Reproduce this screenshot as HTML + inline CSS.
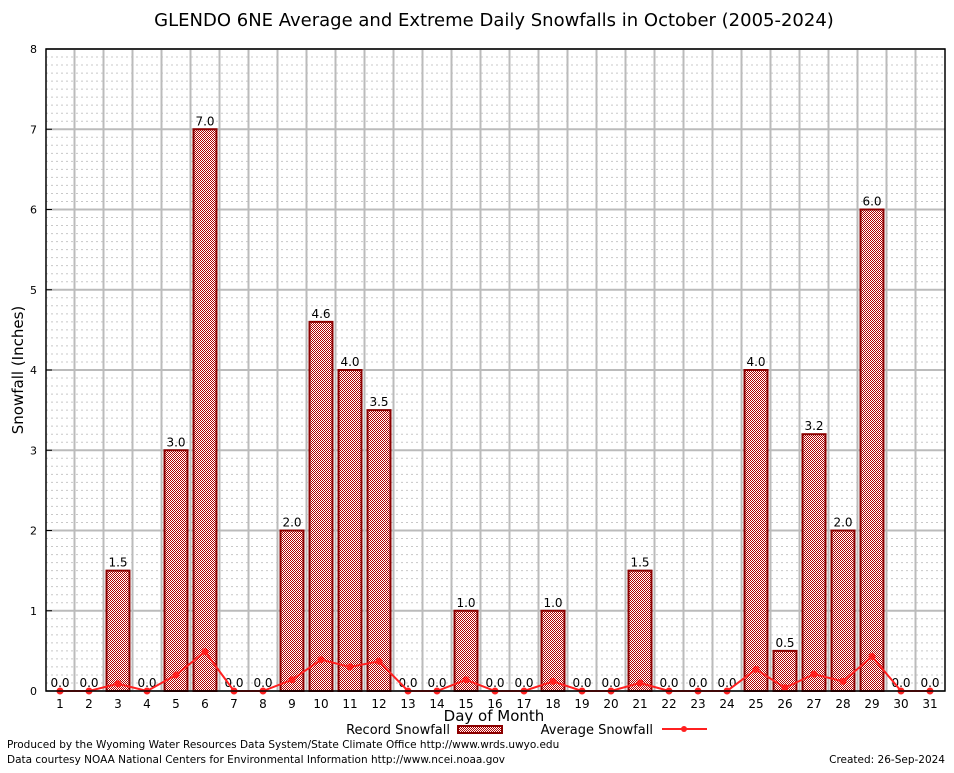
<!DOCTYPE html>
<html><head><meta charset="utf-8"><style>
body{margin:0;background:#fff;}
svg text{font-family:"DejaVu Sans","Liberation Sans",sans-serif;}
</style></head><body>
<svg id="chart" width="954" height="768" viewBox="0 0 954 768" xmlns="http://www.w3.org/2000/svg">
<defs>
<pattern id="dither" width="2" height="2" patternUnits="userSpaceOnUse">
<rect width="2" height="2" fill="#fff"/>
<rect width="1" height="1" fill="#b00000"/>
<rect x="1" y="1" width="1" height="1" fill="#b00000"/>
</pattern>
</defs>
<rect width="954" height="768" fill="#fff"/>
<text x="494" y="26" font-size="18" text-anchor="middle">GLENDO 6NE Average and Extreme Daily Snowfalls in October (2005-2024)</text>
<g id="grid"></g>
<g id="bars"></g>
<g id="avg"></g>
<g id="axes"></g>
<text transform="translate(23,370) rotate(-90)" font-size="15" text-anchor="middle">Snowfall (Inches)</text>
<text x="494" y="721" font-size="15" text-anchor="middle">Day of Month</text>
<g>
<text x="450" y="734" font-size="13" text-anchor="end">Record Snowfall</text>
<rect x="458" y="726" width="44" height="7" fill="url(#dither)" stroke="#8b0000" stroke-width="2"/>
<text x="653" y="734" font-size="13" text-anchor="end">Average Snowfall</text>
<line x1="662" y1="729" x2="707" y2="729" stroke="#ff2020" stroke-width="2"/>
<circle cx="684" cy="729" r="3" fill="#ff2020"/>
</g>
<text x="7" y="748" font-size="10.5">Produced by the Wyoming Water Resources Data System/State Climate Office http://www.wrds.uwyo.edu</text>
<text x="7" y="763" font-size="10.5">Data courtesy NOAA National Centers for Environmental Information http://www.ncei.noaa.gov</text>
<text x="945" y="763" font-size="10.5" text-anchor="end">Created:  26-Sep-2024</text>
</svg>
<script>
const days = [1,2,3,4,5,6,7,8,9,10,11,12,13,14,15,16,17,18,19,20,21,22,23,24,25,26,27,28,29,30,31];
const recordSnow = [0,0,1.5,0,3.0,7.0,0,0,2.0,4.6,4.0,3.5,0,0,1.0,0,0,1.0,0,0,1.5,0,0,0,4.0,0.5,3.2,2.0,6.0,0,0];
const avgSnow = [0,0,0.09,0,0.2,0.49,0,0,0.14,0.39,0.3,0.37,0,0,0.14,0,0,0.12,0,0,0.1,0,0,0,0.27,0.04,0.21,0.12,0.43,0,0];
const yTicks = [0,1,2,3,4,5,6,7,8];

const NS="http://www.w3.org/2000/svg";
const L=46,R=945,T=49,B=691,yMax=8;
const x=d=>60+(d-1)*29;
const y=v=>B-(v/yMax)*(B-T);
function mk(tag,attrs,parent){const e=document.createElementNS(NS,tag);for(const k in attrs)e.setAttribute(k,attrs[k]);parent.appendChild(e);return e;}
const grid=document.getElementById('grid'),bars=document.getElementById('bars'),avg=document.getElementById('avg'),axes=document.getElementById('axes');

for(let i=1;i<yMax*10;i++){if(i%10===0)continue;const l=mk('line',{x1:L,x2:R,y1:y(i/10),y2:y(i/10),stroke:'#c8c8c8','stroke-width':1,'stroke-dasharray':'2,3'},grid);

}
yTicks.forEach(t=>{const l=mk('line',{x1:L,x2:R,y1:y(t),y2:y(t),stroke:'#bbb','stroke-width':2},grid);


const tx=mk('text',{x:37,y:y(t)+4,'font-size':11,'text-anchor':'end'},axes);tx.textContent=t;


const tk=mk('line',{x1:L,x2:L+6,y1:y(t),y2:y(t),stroke:'#000'},axes);

});
for(let i=0;i<days.length-1;i++){const gx=x(days[i])+14.5;const l=mk('line',{x1:gx,x2:gx,y1:T,y2:B,stroke:'#bbb','stroke-width':2},grid);

}

days.forEach((d,i)=>{const v=recordSnow[i];
if(v>0){const r=mk('rect',{x:x(d)-11.5,y:y(v),width:23,height:B-y(v),fill:'url(#dither)',stroke:'#8b0000','stroke-width':2},bars);

}
const t=mk('text',{x:x(d),y:y(v)-4,'font-size':12,'text-anchor':'middle'},bars);t.textContent=v.toFixed(1);


const xt=mk('text',{x:x(d),y:708,'font-size':12,'text-anchor':'middle','font-family':'DejaVu Serif, Liberation Serif, serif'},axes);xt.textContent=d;


});

const pl=mk('polyline',{points:days.map((d,i)=>x(d)+','+y(avgSnow[i])).join(' '),fill:'none',stroke:'#ff2020','stroke-width':2},avg);


days.forEach((d,i)=>{const c=mk('circle',{cx:x(d),cy:y(avgSnow[i]),r:3.5,fill:'#ff2020'},avg);

});

const fr=mk('rect',{x:L,y:T,width:R-L,height:B-T,fill:'none',stroke:'#000','stroke-width':1.5},axes);


</script>
</body></html>
